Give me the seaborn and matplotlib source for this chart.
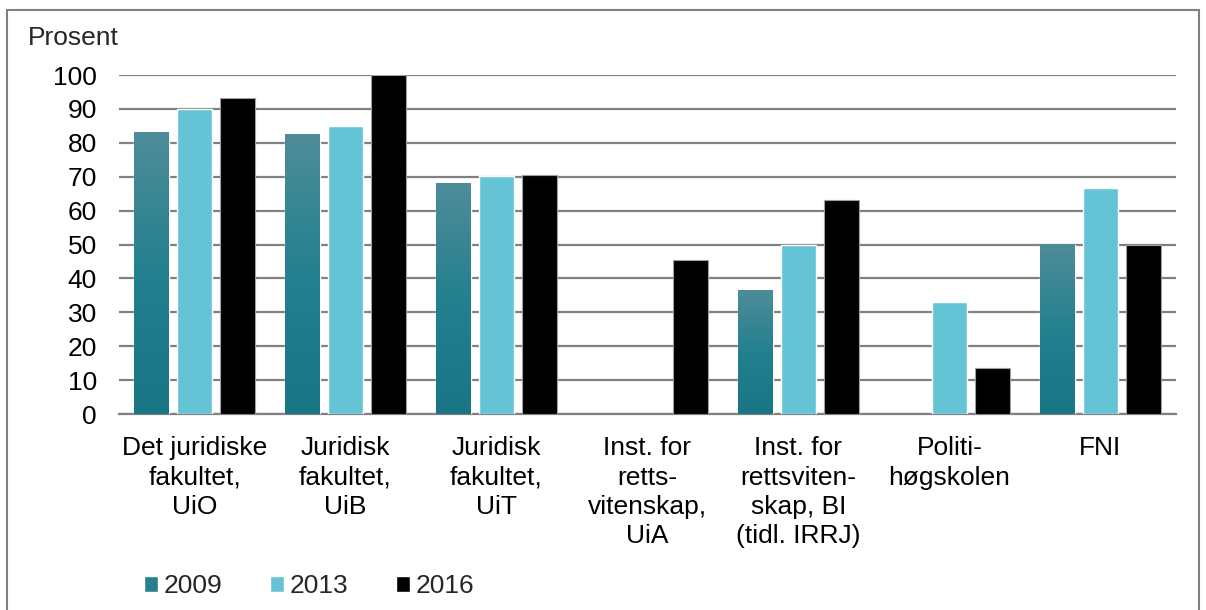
import matplotlib
matplotlib.use("Agg")
import matplotlib.pyplot as plt
from matplotlib.colors import LinearSegmentedColormap
from matplotlib.patches import Patch, Rectangle
import numpy as np
import pandas as pd
import seaborn as sns

categories = ["Det juridiske\nfakultet,\nUiO", "Juridisk\nfakultet,\nUiB", "Juridisk\nfakultet,\nUiT",
              "Inst. for\nretts-\nvitenskap,\nUiA", "Inst. for\nrettsviten-\nskap, BI\n(tidl. IRRJ)",
              "Politi-\nhøgskolen", "FNI"]
years = ["2009", "2013", "2016"]
v2009 = [82.9, 82.6, 68.1, np.nan, 36.3, np.nan, 50.0]
v2013 = [90.0, 85.0, 70.2, np.nan, 49.9, 33.1, 66.7]
v2016 = [93.2, 100.0, 70.5, 45.4, 63.1, 13.6, 50.0]

rows = []
for yr, vals in zip(years, [v2009, v2013, v2016]):
    for c, v in zip(categories, vals):
        rows.append({"inst": c, "year": yr, "pct": v})
df = pd.DataFrame(rows)

sns.set_style("white")
plt.rcParams['font.family'] = ['Liberation Sans', 'DejaVu Sans']

fig = plt.figure(figsize=(12.06, 6.1), dpi=100)
ax = fig.add_axes([0.0987, 0.3213, 0.8763, 0.5557])

c2013 = "#65c3d6"
c2016 = "#000000"
top09 = "#4f8c99"
bot09 = "#1a7585"

sns.barplot(data=df, x="inst", y="pct", hue="year", hue_order=years, order=categories,
            palette=[bot09, c2013, c2016], saturation=1, width=0.855, gap=0.19, ax=ax,
            errorbar=None, legend=False, zorder=3)

# edges on black bars, gradient on 2009 bars
for bar in ax.containers[2]:
    bar.set_edgecolor("#a0a0a0")
    bar.set_linewidth(0.8)
cmap = LinearSegmentedColormap.from_list("g09", [bot09, "#23808f", top09])
grad = np.linspace(0, 1, 256).reshape(-1, 1)
for bar in ax.containers[0]:
    x0, w, h = bar.get_x(), bar.get_width(), bar.get_height()
    if np.isnan(h):
        continue
    ax.imshow(grad, extent=[x0, x0 + w, 0, h], origin="lower", aspect="auto",
              cmap=cmap, zorder=3.5, interpolation="bicubic")

ax.set_xlim(-0.5, len(categories) - 0.5)
ax.set_ylim(0, 100)
ax.set_yticks(range(0, 101, 10))
ax.yaxis.grid(True, color="#808080", linewidth=1.6, zorder=0)
ax.set_axisbelow(True)
for s in ["top", "right", "left"]:
    ax.spines[s].set_visible(False)
ax.spines["bottom"].set_color("#808080")
ax.spines["bottom"].set_linewidth(1.6)
ax.set_xlabel("")
ax.set_ylabel("")
ax.tick_params(axis="y", length=0, pad=16, labelsize=19, labelcolor="black")
ax.tick_params(axis="x", length=0, pad=16, labelsize=19, labelcolor="black")
for lab in ax.get_xticklabels():
    lab.set_linespacing(1.28)
    lab.set_verticalalignment("top")

fig.text(28 / 1206, 1 - 38 / 610, "Prosent", fontsize=19, va="center", ha="left")

handles = [Patch(facecolor="#2a7f8e", label="2009"),
           Patch(facecolor=c2013, label="2013"),
           Patch(facecolor=c2016, label="2016")]
fig.legend(handles=handles, loc="center left", bbox_to_anchor=(133 / 1206, 1 - 586 / 610),
           ncol=3, frameon=False, fontsize=19, handlelength=0.55, handleheight=0.55,
           handletextpad=0.2, columnspacing=1.8, borderaxespad=0)

fig.patches.append(Rectangle((7 / 1206, -0.05), 1192 / 1206, 1.05 - 10 / 610,
                             transform=fig.transFigure, fill=False, edgecolor="#808080",
                             linewidth=1.5, clip_on=False))

fig.savefig("out.png", dpi=100)
